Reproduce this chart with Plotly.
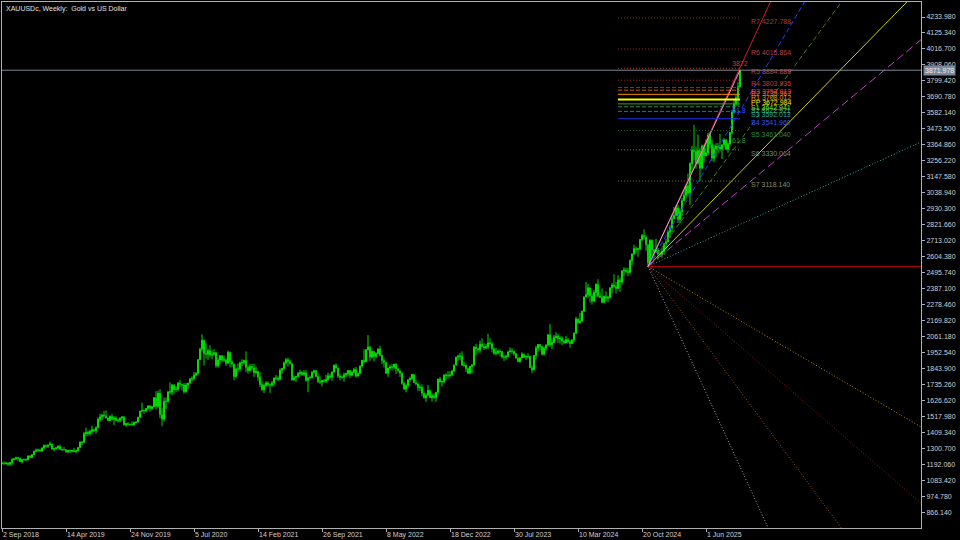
import pandas as pd
import plotly.graph_objects as go

# ---------------- data (weekly XAUUSD bars, week start Sunday) ----------------
start_date = "2018-09-02"
first_open = 1201

close_2018 = [1196,1194,1199,1191,1203,1222,1227,1235,1233,1209,1222,1222,1222,1248,1238,1256,1279,1286]
high_2018 = [1206,1212,1209,1204,1207,1233,1233,1243,1243,1237,1225,1230,1230,1250,1252,1260,1284,1298]
low_2018 = [1191,1190,1192,1180,1182,1183,1218,1221,1211,1208,1196,1221,1213,1221,1236,1236,1256,1276]

close_2019 = [1288,1282,1303,1318,1314,1322,1328,1294,1298,1302,1313,1292,1291,1290,1276,1286,1279,1285,1277,1284,1305,1341,1341,1399,1409,1399,1416,1426,1419,1440,1496,1513,1527,1520,1506,1488,1517,1497,1505,1489,1490,1505,1514,1459,1468,1462,1464,1459,1476,1478,1511,1552]
high_2019 = [1298,1298,1304,1326,1326,1324,1346,1330,1300,1311,1320,1325,1297,1310,1294,1287,1290,1289,1303,1286,1306,1348,1348,1411,1439,1418,1425,1453,1433,1449,1510,1535,1531,1555,1557,1510,1523,1535,1519,1517,1499,1511,1517,1516,1472,1478,1466,1484,1481,1485,1514,1557]
low_2019 = [1276,1280,1276,1295,1303,1302,1319,1291,1280,1290,1296,1289,1280,1287,1270,1266,1267,1277,1275,1266,1280,1304,1323,1335,1382,1381,1387,1400,1412,1400,1437,1480,1491,1517,1504,1484,1485,1490,1459,1484,1475,1480,1490,1456,1446,1456,1452,1456,1456,1472,1477,1507]

close_2020 = [1557,1557,1571,1589,1570,1584,1643,1585,1674,1530,1498,1617,1620,1683,1683,1729,1700,1702,1743,1735,1730,1685,1730,1743,1771,1775,1798,1810,1902,1975,2035,1944,1940,1964,1934,1940,1950,1862,1900,1930,1899,1902,1879,1951,1889,1872,1788,1839,1839,1881,1883,1898]
high_2020 = [1611,1563,1574,1589,1592,1584,1649,1689,1692,1703,1575,1645,1645,1690,1748,1738,1737,1722,1751,1765,1737,1745,1745,1745,1779,1789,1818,1817,1908,1983,2075,2040,2015,1977,2000,1966,1973,1957,1917,1932,1933,1933,1911,1965,1960,1898,1875,1848,1876,1890,1906,1901]
low_2020 = [1548,1536,1546,1563,1548,1563,1581,1563,1575,1505,1451,1482,1567,1612,1670,1660,1672,1683,1691,1717,1693,1671,1679,1705,1741,1757,1762,1791,1800,1900,1960,1863,1911,1902,1917,1906,1932,1848,1850,1873,1887,1890,1860,1876,1850,1853,1764,1780,1820,1822,1858,1870]

close_2021 = [1850,1828,1856,1848,1814,1824,1784,1734,1700,1727,1745,1733,1729,1744,1777,1777,1769,1831,1843,1881,1903,1891,1877,1764,1781,1787,1808,1815,1802,1814,1763,1780,1781,1818,1827,1788,1754,1750,1761,1757,1768,1793,1783,1818,1865,1846,1792,1783,1783,1799,1809,1829]
high_2021 = [1959,1864,1875,1875,1875,1855,1825,1816,1760,1740,1755,1755,1740,1758,1784,1798,1790,1844,1846,1890,1913,1916,1903,1877,1795,1792,1818,1834,1825,1832,1832,1782,1795,1823,1834,1834,1809,1787,1765,1770,1800,1814,1810,1823,1869,1877,1849,1808,1793,1814,1815,1831]
low_2021 = [1817,1808,1826,1831,1785,1807,1760,1717,1687,1676,1718,1720,1677,1720,1724,1765,1756,1764,1808,1836,1870,1855,1870,1761,1761,1750,1785,1792,1794,1790,1752,1682,1772,1775,1808,1782,1745,1737,1721,1746,1745,1760,1776,1759,1816,1844,1778,1762,1771,1753,1786,1789]

close_2022 = [1797,1817,1835,1791,1808,1859,1898,1889,1970,1988,1921,1958,1925,1945,1975,1931,1897,1883,1811,1846,1853,1851,1871,1840,1827,1811,1742,1703,1727,1766,1775,1802,1747,1738,1712,1716,1675,1643,1661,1694,1644,1657,1644,1681,1771,1751,1754,1797,1797,1793,1798,1824]
high_2022 = [1831,1829,1848,1853,1815,1865,1902,1974,1974,2070,1995,1966,1960,1950,1980,1998,1937,1910,1887,1849,1869,1874,1875,1879,1847,1830,1814,1752,1739,1767,1788,1807,1803,1765,1746,1729,1735,1688,1675,1730,1695,1670,1675,1682,1773,1786,1762,1804,1810,1825,1823,1833]
low_2022 = [1779,1790,1810,1780,1788,1805,1850,1878,1890,1966,1895,1910,1890,1915,1940,1925,1872,1850,1807,1786,1838,1829,1836,1805,1816,1785,1732,1697,1681,1711,1754,1765,1744,1728,1688,1691,1654,1639,1615,1660,1642,1618,1638,1616,1667,1749,1721,1744,1765,1773,1784,1795]

close_2023 = [1866,1920,1926,1928,1865,1865,1842,1811,1856,1868,1989,1978,1969,2008,1993,1983,1990,2017,2011,1977,1946,1948,1961,1958,1921,1919,1925,1955,1962,1960,1943,1913,1889,1915,1940,1919,1924,1925,1848,1833,1932,1981,2006,1993,1940,1981,2002,2072,2005,2019,2053,2063,2045]
high_2023 = [1870,1922,1937,1949,1960,1890,1870,1847,1859,1870,1994,2010,1983,2032,2048,2015,2009,2079,2048,2022,1985,1983,1970,1972,1960,1934,1935,1964,1987,1982,1966,1948,1916,1922,1953,1943,1933,1947,1928,1863,1933,1997,2009,2009,1993,1993,2007,2075,2146,2047,2070,2088,2078]
low_2023 = [1822,1867,1896,1900,1861,1852,1819,1805,1804,1810,1858,1934,1949,1950,1992,1969,1975,1976,2005,1952,1937,1932,1939,1925,1910,1893,1902,1919,1952,1942,1929,1910,1885,1884,1914,1914,1901,1913,1846,1810,1834,1908,1953,1965,1931,1931,1965,1993,1990,1973,2016,2048,2016]

close_2024 = [2049,2029,2018,2039,2024,2013,2036,2083,2179,2155,2165,2233,2330,2344,2392,2337,2301,2360,2415,2334,2327,2293,2333,2321,2326,2392,2411,2400,2387,2443,2431,2507,2512,2503,2497,2577,2622,2658,2653,2657,2720,2747,2737,2685,2563,2715,2650,2633,2648,2622,2621,2640]
high_2024 = [2062,2062,2036,2065,2050,2034,2041,2088,2195,2185,2222,2236,2331,2431,2417,2392,2352,2378,2422,2450,2364,2388,2340,2368,2336,2393,2425,2484,2432,2477,2462,2509,2531,2528,2529,2586,2625,2685,2673,2664,2722,2758,2790,2750,2689,2721,2721,2657,2726,2664,2638,2666]
low_2024 = [2013,2002,2010,2016,2015,1984,2011,2024,2078,2146,2146,2163,2228,2325,2324,2291,2277,2297,2332,2325,2324,2286,2287,2302,2293,2318,2351,2393,2353,2382,2364,2414,2470,2491,2471,2485,2546,2615,2625,2603,2646,2708,2723,2643,2537,2564,2605,2614,2627,2583,2605,2596]

close_2025 = [2690,2703,2770,2800,2861,2883,2936,2857,2910,2984,3022,3085,3037,3237,3327,3319,3240,3325,3205,3357,3290,3310,3432,3368,3274,3337,3355,3350,3337,3363,3398,3335,3371,3448,3586,3643,3685,3760,3872]
high_2025 = [2698,2726,2786,2817,2886,2942,2955,2956,2930,3004,3057,3086,3168,3245,3358,3500,3352,3435,3345,3366,3365,3403,3446,3452,3398,3365,3375,3377,3439,3369,3409,3404,3379,3453,3600,3674,3707,3791,3872]
low_2025 = [2614,2656,2701,2731,2772,2859,2880,2833,2832,2880,2982,2999,3015,2957,3194,3260,3202,3228,3120,3205,3245,3290,3293,3340,3255,3247,3283,3309,3325,3268,3345,3331,3311,3364,3436,3578,3627,3630,3758]

current_price = 3871.978

# x axis ticks
x_tick_dates = ["2018-09-02","2019-04-14","2019-11-24","2020-07-05","2021-02-14","2021-09-26",
                "2022-05-08","2022-12-18","2023-07-30","2024-03-10","2024-10-20","2025-06-01"]
x_tick_text = ["2 Sep 2018","14 Apr 2019","24 Nov 2019","5 Jul 2020","14 Feb 2021","26 Sep 2021",
               "8 May 2022","18 Dec 2022","30 Jul 2023","10 Mar 2024","20 Oct 2024","1 Jun 2025"]
# y axis ticks
y_ticks = [866.14,974.78,1083.42,1192.06,1300.70,1409.34,1517.98,1626.62,1735.26,1843.90,1952.54,
           2061.18,2169.82,2278.46,2387.10,2495.74,2604.38,2713.02,2821.66,2930.30,3038.94,3147.58,
           3256.22,3364.86,3473.50,3582.14,3690.78,3799.42,3908.06,4016.70,4125.34,4233.98]

# pivot levels
pivot_names = ["R7","R6","R5","R4","R3","R2","R1","PP","S1","S2","S3","S4","S5","S6","S7"]
pivot_values = [4227.788,4015.864,3884.888,3803.935,3753.913,3735.967,3708.012,3672.984,
                3642.941,3622.921,3592.013,3541.960,3461.040,3330.064,3118.140]
pivot_start = "2024-07-28"
pivot_end = "2025-09-28"
pivot_line_colors = ["#8B2E1A","#A52A2A","#A0401A","#B22222","#E01010","#B8581B","#FF8C00","#FFFF00",
                     "#2EA02E","#2E8B57","#008B8B","#1E32E0","#1E641E","#6B7B6B","#6B6B4B"]
pivot_text_colors = ["#A0402A","#B04040","#B04848","#C83232","#FF3030","#E06030","#FF9020","#FFE020",
                     "#70F020","#40C060","#20A8A8","#3050FF","#2E8B3E","#7A8A7A","#8A8A6A"]
pivot_dash = ["1px,2px","1px,2px","1px,2px","1px,2px","4px,2px","4px,2px","solid","solid",
              "solid","4px,2px","4px,2px","solid","1px,2px","1px,2px","1px,2px"]
pivot_width = [1,1,1,1,1,1,1,2,1,1,1,1,1,1,1]

# fan from the Nov-2024 low (price change per week)
fan_origin_date = "2024-11-10"
fan_slopes = [29.4, 23.0, 18.6, 13.9, 11.3, 6.2, 0.0, -8.0, -11.8, -18.4, -29.6]
fan_colors = ["#D02020","#2040FF","#3C7A1E","#D0D000","#C040C0","#40A0A0","#B00000",
              "#B8861B","#802020","#A0522D","#A0A0A0"]
fan_dash = ["solid","5px,3px","5px,3px","solid","8px,4px","1px,2px","solid",
            "1px,2px","1px,2px","1px,2px","1px,2px"]
fan_labels = ["", "61.8", "61.8", "", "", "", "", "", "", "", ""]
fan_label_colors = ["", "#3050FF", "#3C8C3C", "", "", "", "", "", "", "", ""]

# ---------------- build ----------------
closes = close_2018 + close_2019 + close_2020 + close_2021 + close_2022 + close_2023 + close_2024 + close_2025
highs = high_2018 + high_2019 + high_2020 + high_2021 + high_2022 + high_2023 + high_2024 + high_2025
lows = low_2018 + low_2019 + low_2020 + low_2021 + low_2022 + low_2023 + low_2024 + low_2025
opens = [first_open] + closes[:-1]
dates = pd.date_range(start_date, periods=len(closes), freq="7D")

week = pd.Timedelta(days=7)
x0 = dates[0]
x1 = dates[0] + 459.5 * week

FONT = "Liberation Sans"
fig = go.Figure()

fig.add_trace(go.Candlestick(
    x=dates, open=opens, high=highs, low=lows, close=closes,
    increasing=dict(line=dict(color="#00E000", width=1), fillcolor="#70FF70"),
    decreasing=dict(line=dict(color="#00D000", width=1), fillcolor="#00A000"),
    whiskerwidth=0, hoverinfo="skip", showlegend=False))

# current price line
fig.add_trace(go.Scatter(x=[x0, x1], y=[current_price, current_price], mode="lines",
                         line=dict(color="#7A8899", width=1), hoverinfo="skip", showlegend=False))

# fan lines
o_idx = list(dates).index(pd.Timestamp(fan_origin_date))
o_price = lows[o_idx]
o_date = dates[o_idx]
n_weeks = (x1 - o_date) / week
for s, c, d in zip(fan_slopes, fan_colors, fan_dash):
    fig.add_trace(go.Scatter(x=[o_date, x1], y=[o_price, o_price + s * n_weeks], mode="lines",
                             line=dict(color=c, width=1, dash=d), hoverinfo="skip", showlegend=False))
# line from the low to the latest high
fig.add_trace(go.Scatter(x=[o_date, dates[-1]], y=[o_price, highs[-1]], mode="lines",
                         line=dict(color="#E0A0E0", width=1), hoverinfo="skip", showlegend=False))

# pivot lines
for v, c, d, w in zip(pivot_values, pivot_line_colors, pivot_dash, pivot_width):
    fig.add_trace(go.Scatter(x=[pivot_start, pivot_end], y=[v, v], mode="lines",
                             line=dict(color=c, width=w, dash=d), hoverinfo="skip", showlegend=False))

annotations = []
for n, v, c in zip(pivot_names, pivot_values, pivot_text_colors):
    annotations.append(dict(x=pivot_end, y=v, xref="x", yref="y", text=f"{n} {v:.3f}",
                            showarrow=False, xanchor="left", yanchor="top", xshift=9, yshift=2,
                            font=dict(family=FONT, size=7, color=c)))
# fan labels at last bar
weeks_last = (dates[-1] - o_date) / week
for s, t, c in zip(fan_slopes, fan_labels, fan_label_colors):
    if t:
        annotations.append(dict(x=dates[-1], y=o_price + s * weeks_last, xref="x", yref="y", text=t,
                                showarrow=False, xanchor="center", yanchor="middle", xshift=-1,
                                font=dict(family=FONT, size=7, color=c)))
# high label
annotations.append(dict(x=dates[-1], y=highs[-1], xref="x", yref="y", text=f"{highs[-1]:.0f}",
                        showarrow=False, xanchor="center", yanchor="bottom", yshift=1,
                        font=dict(family=FONT, size=7, color="#E03030")))
# title
annotations.append(dict(x=0, y=1, xref="paper", yref="paper", text="XAUUSDc, Weekly:  Gold vs US Dollar",
                        showarrow=False, xanchor="left", yanchor="top", xshift=2, yshift=-1,
                        font=dict(family=FONT, size=7, color="#E0E0E0")))
# current price tag
annotations.append(dict(x=1, y=current_price, xref="paper", yref="y", text=f"{current_price:.3f}",
                        showarrow=False, xanchor="left", yanchor="middle", xshift=2,
                        bgcolor="#7A8899", borderpad=1,
                        font=dict(family=FONT, size=7, color="#F0F0F0")))

fig.update_layout(
    width=960, height=540,
    margin=dict(l=2, r=39, t=2, b=12, pad=0, autoexpand=False),
    paper_bgcolor="#000000", plot_bgcolor="#000000",
    annotations=annotations,
    showlegend=False,
    xaxis=dict(type="date", range=[x0, x1], rangeslider=dict(visible=False), automargin=False,
               tickvals=x_tick_dates, ticktext=x_tick_text, ticklabelposition="outside right",
               ticks="outside", ticklen=3, tickcolor="#B0B0B0",
               showline=True, linecolor="#B0B0B0", linewidth=1, mirror=True,
               showgrid=False, zeroline=False,
               tickfont=dict(family=FONT, size=7, color="#D0D0D0")),
    yaxis=dict(range=[757.7, 4336.0], side="right", automargin=False,
               tickvals=y_ticks, ticktext=[f"{v:.3f}" for v in y_ticks],
               ticks="outside", ticklen=3, tickcolor="#B0B0B0",
               showline=True, linecolor="#B0B0B0", linewidth=1, mirror=True,
               showgrid=False, zeroline=False,
               tickfont=dict(family=FONT, size=7, color="#D0D0D0")),
)

fig.write_html("out.html", config={"displayModeBar": False},
               post_script="document.body.style.margin='0';document.body.style.background='#000';")
